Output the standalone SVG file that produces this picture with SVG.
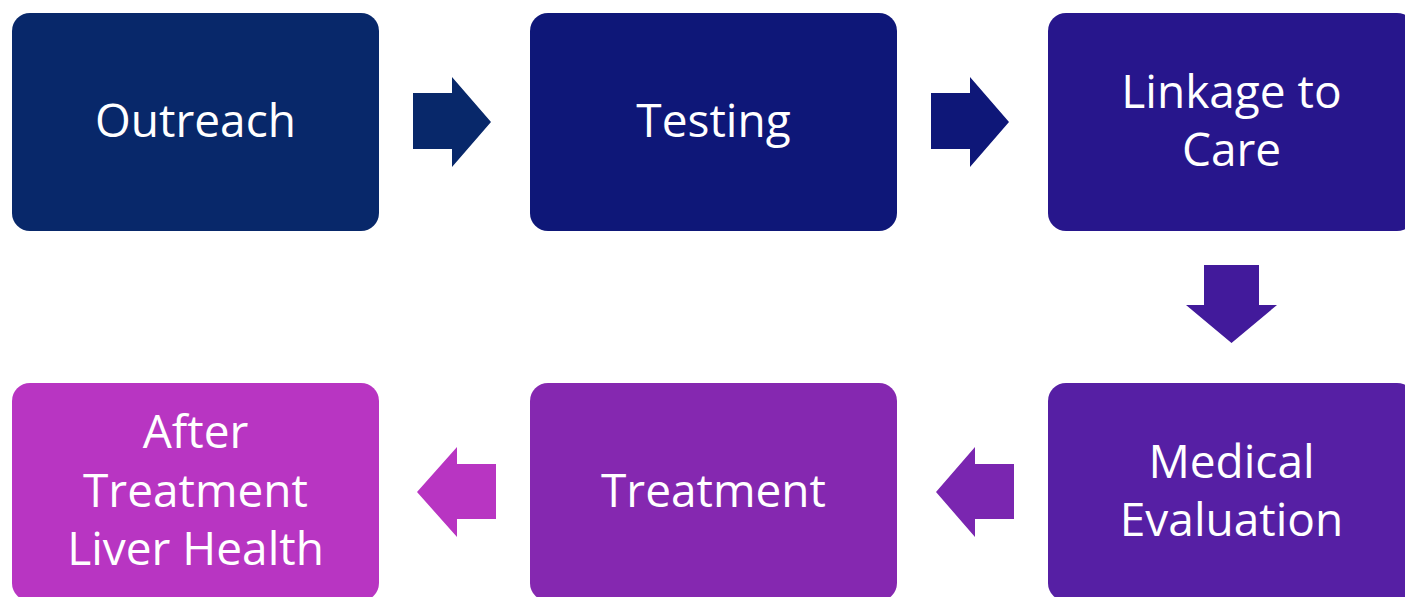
<svg xmlns="http://www.w3.org/2000/svg" width="1405" height="597" viewBox="0 0 1405 597">
<style>
.box{rx:18px;ry:18px}
text{font-family:"Open Sans","Liberation Sans",sans-serif;font-size:46px;fill:#ffffff;text-anchor:middle}
</style>
<rect width="1405" height="597" fill="#ffffff"/>
<g id="connectors">
<polygon points="413,93 452,93 452,77 491,122 452,167 452,149 413,149" fill="#08286A"/>
<polygon points="931,93 970,93 970,77 1009,122 970,167 970,149 931,149" fill="#0E1778"/>
<polygon points="1204,265 1259,265 1259,305 1277,305 1231.5,343 1186,305 1204,305" fill="#421A9B"/>
<polygon points="1014,464 975,464 975,447 936,492 975,537 975,519 1014,519" fill="#7A26B0"/>
<polygon points="496,464 457,464 457,447 417,492 457,537 457,519 496,519" fill="#B835C2"/>
</g>
<g id="outreach"><rect class="box" x="12" y="13" width="367" height="218" fill="#08286A"/><text x="195.5" y="137">Outreach</text></g>
<g id="testing"><rect class="box" x="530" y="13" width="367" height="218" fill="#0E1778"/><text x="713.5" y="137">Testing</text></g>
<g id="linkage"><rect class="box" x="1048" y="13" width="367" height="218" fill="#27168C"/><text x="1231.5" y="108">Linkage to</text><text x="1231.5" y="166">Care</text></g>
<g id="medical"><rect class="box" x="1048" y="383" width="367" height="218" fill="#561FA4"/><text x="1231.5" y="478">Medical</text><text x="1231.5" y="536">Evaluation</text></g>
<g id="treatment"><rect class="box" x="530" y="383" width="367" height="218" fill="#8528B0"/><text x="713.5" y="507">Treatment</text></g>
<g id="after"><rect class="box" x="12" y="383" width="367" height="218" fill="#B835C2"/><text x="195.5" y="448">After</text><text x="195.5" y="507">Treatment</text><text x="195.5" y="565">Liver Health</text></g>
</svg>
